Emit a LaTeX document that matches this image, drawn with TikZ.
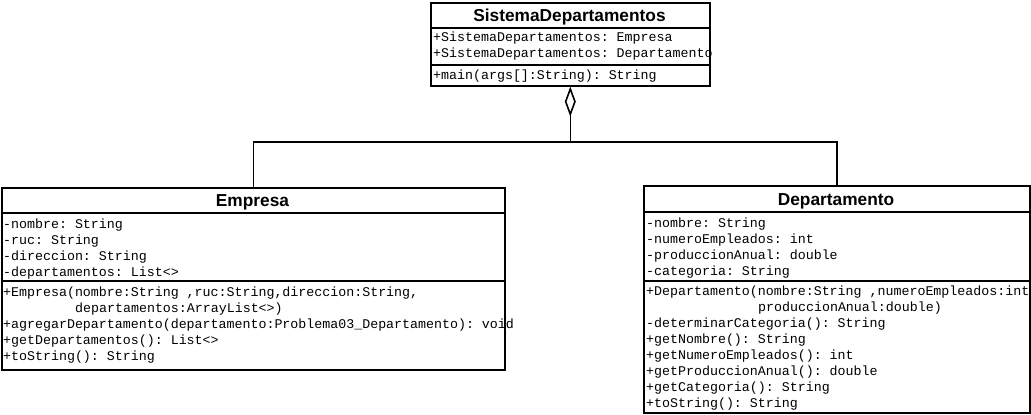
\documentclass[tikz,border=0pt]{standalone}
\usepackage{fontspec}
\setmainfont{Liberation Sans}
\setmonofont{Liberation Mono}
\usetikzlibrary{arrows.meta}
\begin{document}
\begin{tikzpicture}[x=1pt,y=-1pt,
  box/.style={draw=black,line width=1.6pt,inner sep=0pt,anchor=north west},
  sep/.style={draw=black,line width=1.6pt},
  ttl/.style={font=\fontsize{17.3}{17}\selectfont\bfseries,inner sep=0pt,anchor=base},
  mem/.style={font=\fontsize{13.3}{16}\selectfont\ttfamily,inner sep=0pt,anchor=base west},
  conn/.style={draw=black,line width=1.6pt}]
\useasboundingbox (0,0) rectangle (1031,415);
\fill[white] (0,0) rectangle (1031,415);

% SistemaDepartamentos
\node[mem] (sd1) at (433,41) {+SistemaDepartamentos: Empresa};
\node[mem] (sd2) at (433,57) {+SistemaDepartamentos: Departamento};
\node[mem] (sd3) at (433,79) {+main(args[]:String): String};
\node[box,minimum width=279pt,minimum height=83pt] (sd) at (430,2) {};
\node[ttl] (sdt) at (569.5,21) {SistemaDepartamentos};
\draw[sep] (430,28) -- (709,28);
\draw[sep] (430,65) -- (709,65);

% Empresa
\node[mem] (e1) at (3,228) {-nombre: String};
\node[mem] (e2) at (3,244) {-ruc: String};
\node[mem] (e3) at (3,260) {-direccion: String};
\node[mem] (e4) at (3,276) {-departamentos: List<>};
\node[mem] (e5) at (3,296) {+Empresa(nombre:String ,ruc:String,direccion:String,};
\node[mem] (e6) at (75,312) {departamentos:ArrayList<>)};
\node[mem] (e7) at (3,328) {+agregarDepartamento(departamento:Problema03\_Departamento): void};
\node[mem] (e8) at (3,344) {+getDepartamentos(): List<>};
\node[mem] (e9) at (3,360) {+toString(): String};
\node[box,minimum width=503pt,minimum height=182pt] (emp) at (1,187) {};
\node[ttl] (empt) at (252.5,206) {Empresa};
\draw[sep] (1,213) -- (504,213);
\draw[sep] (1,281) -- (504,281);

% Departamento
\node[mem] (d1) at (646,227) {-nombre: String};
\node[mem] (d2) at (646,243) {-numeroEmpleados: int};
\node[mem] (d3) at (646,259) {-produccionAnual: double};
\node[mem] (d4) at (646,275) {-categoria: String};
\node[mem] (d5) at (646,295) {+Departamento(nombre:String ,numeroEmpleados:int};
\node[mem] (d6) at (758,311) {produccionAnual:double)};
\node[mem] (d7) at (646,327) {-determinarCategoria(): String};
\node[mem] (d8) at (646,343) {+getNombre(): String};
\node[mem] (d9) at (646,359) {+getNumeroEmpleados(): int};
\node[mem] (d10) at (646,375) {+getProduccionAnual(): double};
\node[mem] (d11) at (646,391) {+getCategoria(): String};
\node[mem] (d12) at (646,407) {+toString(): String};
\node[box,minimum width=386pt,minimum height=227pt] (dep) at (643,185) {};
\node[ttl] (dept) at (836,205) {Departamento};
\draw[sep] (643,212) -- (1029,212);
\draw[sep] (643,281) -- (1029,281);

% aggregation
\coordinate (j) at (sd.south |- 0,142);
\draw[conn] (emp.north) |- (j) -| (dep.north);
\draw[conn,-{Diamond[open,length=30pt,width=11pt,line width=1.6pt]}] (j) -- (sd.south);
\end{tikzpicture}
\end{document}
